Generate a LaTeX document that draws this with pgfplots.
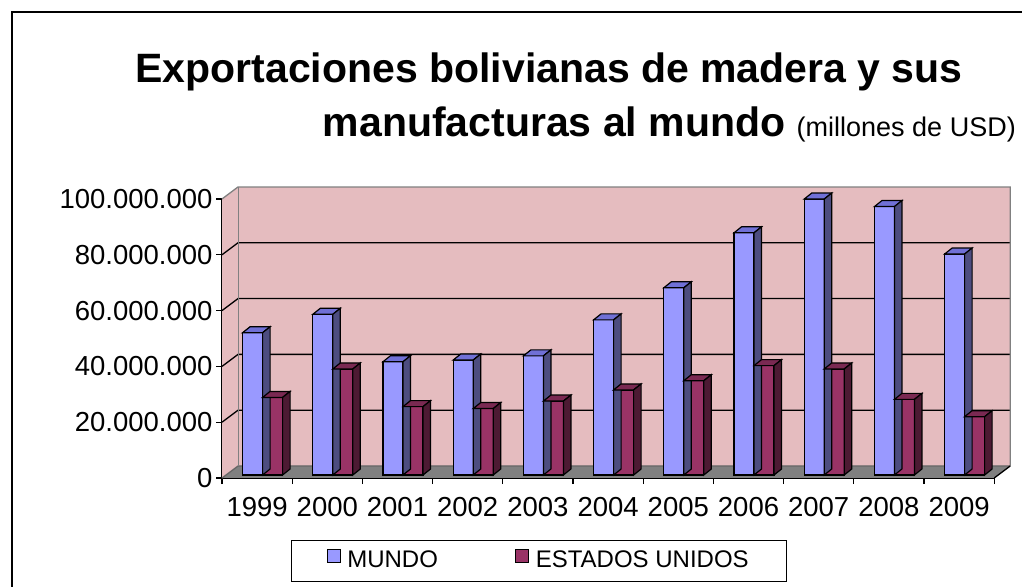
\documentclass[border=0pt]{standalone}
\usepackage{fontspec}
\setmainfont{Liberation Sans}
\usepackage{pgfplots}
\usepackage{pgfplotstable}
\pgfplotsset{compat=1.18}
\definecolor{wall}{HTML}{E5BCBF}
\definecolor{floorgray}{HTML}{808080}
\definecolor{mfront}{HTML}{9999FF}
\definecolor{mtop}{HTML}{7070D6}
\definecolor{mside}{HTML}{4D4D80}
\definecolor{efront}{HTML}{993366}
\definecolor{etop}{HTML}{7A2952}
\definecolor{eside}{HTML}{4D1A33}

\pgfplotstableread{
i mundo eeuu
0 51.0 27.8
1 57.6 38.0
2 40.6 24.5
3 41.2 23.8
4 42.7 26.5
5 55.6 30.5
6 67.1 33.8
7 86.8 39.2
8 98.9 38.0
9 96.2 27.1
10 79.2 20.9
}\datatable

% side and top faces of a 3D column; origin = data point (category centre, value)
\pgfdeclareplotmark{mundo3d}{%
  \pgfmathsetmacro\hh{\vv*2.79}%
  \pgfpathmoveto{\pgfpoint{-14.5pt}{3pt}}%
  \pgfpathlineto{\pgfpoint{5.5pt}{3pt}}%
  \pgfpathlineto{\pgfpoint{13pt}{9pt}}%
  \pgfpathlineto{\pgfpoint{-7pt}{9pt}}%
  \pgfpathclose
  \pgfsetfillcolor{mtop}%
  \pgfusepath{fill,stroke}%
  \pgfpathmoveto{\pgfpoint{5.5pt}{3pt}}%
  \pgfpathlineto{\pgfpoint{13pt}{9pt}}%
  \pgfpathlineto{\pgfpoint{13pt}{9pt-\hh pt}}%
  \pgfpathlineto{\pgfpoint{5.5pt}{3pt-\hh pt}}%
  \pgfpathclose
  \pgfsetfillcolor{mside}%
  \pgfusepath{fill,stroke}%
}
\pgfdeclareplotmark{eeuu3d}{%
  \pgfmathsetmacro\hh{\vv*2.79}%
  \pgfpathmoveto{\pgfpoint{5.5pt}{3pt}}%
  \pgfpathlineto{\pgfpoint{25.5pt}{3pt}}%
  \pgfpathlineto{\pgfpoint{33pt}{9pt}}%
  \pgfpathlineto{\pgfpoint{13pt}{9pt}}%
  \pgfpathclose
  \pgfsetfillcolor{etop}%
  \pgfusepath{fill,stroke}%
  \pgfpathmoveto{\pgfpoint{25.5pt}{3pt}}%
  \pgfpathlineto{\pgfpoint{33pt}{9pt}}%
  \pgfpathlineto{\pgfpoint{33pt}{9pt-\hh pt}}%
  \pgfpathlineto{\pgfpoint{25.5pt}{3pt-\hh pt}}%
  \pgfpathclose
  \pgfsetfillcolor{eside}%
  \pgfusepath{fill,stroke}%
}

\begin{document}
\begin{tikzpicture}
\path[use as bounding box] (0,0) rectangle (1022pt,586pt);
\draw[line width=1.8pt] (12pt,-5pt) -- (12pt,574pt) -- (1030pt,574pt);

\node[anchor=base, inner sep=0pt, font=\fontsize{41}{48}\selectfont\bfseries] at (549pt,503pt) {Exportaciones bolivianas de madera y sus};
\node[anchor=base east, inner sep=0pt] at (1016pt,449pt) {\fontsize{41}{48}\selectfont\bfseries manufacturas al mundo \fontsize{27}{32}\selectfont\mdseries(millones de USD)};

\begin{axis}[
  at={(222pt,108pt)}, anchor=south west,
  scale only axis, x=70.2pt, y=2.79pt,
  xmin=-0.5, xmax=10.5, ymin=0, ymax=100,
  clip=false,
  axis x line*=bottom, axis y line*=left,
  axis line style={line width=1.3pt, -, black},
  xtick={-0.5,0.5,...,10.5},
  x tick label as interval,
  xticklabels={1999,2000,2001,2002,2003,2004,2005,2006,2007,2008,2009},
  xticklabel style={yshift=-10pt},
  ytick={0,20,40,60,80,100},
  yticklabels={0,20.000.000,40.000.000,60.000.000,80.000.000,100.000.000},
  tick align=outside, major tick length=6pt,
  tick style={line width=1.3pt, black},
  tick label style={font=\fontsize{27.5}{31}\selectfont},
  legend style={at={(0.0894,-0.2222)}, anchor=north west, legend columns=2,
    draw=black, line width=1pt, inner xsep=35pt, inner ysep=7pt,
    font=\fontsize{24}{28}\selectfont,
    nodes={inner xsep=3pt, inner ysep=3pt, text height=17pt, text depth=4pt},
    /tikz/every odd column/.append style={column sep=4pt},
    /tikz/every even column/.append style={column sep=74pt}},
]
% walls and floor
\fill[wall] ([shift={(16pt,12pt)}]axis cs:-0.5,0) rectangle ([shift={(16pt,12pt)}]axis cs:10.5,100);
\fill[wall] (axis cs:-0.5,0) -- ([shift={(16pt,12pt)}]axis cs:-0.5,0) -- ([shift={(16pt,12pt)}]axis cs:-0.5,100) -- (axis cs:-0.5,100) -- cycle;
\fill[floorgray] (axis cs:-0.5,0) -- (axis cs:10.5,0) -- ([shift={(16pt,12pt)}]axis cs:10.5,0) -- ([shift={(16pt,12pt)}]axis cs:-0.5,0) -- cycle;
\draw[black, line width=1.3pt] (axis cs:-0.5,20) -- ([shift={(16pt,12pt)}]axis cs:-0.5,20) -- ([shift={(16pt,12pt)}]axis cs:10.5,20);
\draw[black, line width=1.3pt] (axis cs:-0.5,40) -- ([shift={(16pt,12pt)}]axis cs:-0.5,40) -- ([shift={(16pt,12pt)}]axis cs:10.5,40);
\draw[black, line width=1.3pt] (axis cs:-0.5,60) -- ([shift={(16pt,12pt)}]axis cs:-0.5,60) -- ([shift={(16pt,12pt)}]axis cs:10.5,60);
\draw[black, line width=1.3pt] (axis cs:-0.5,80) -- ([shift={(16pt,12pt)}]axis cs:-0.5,80) -- ([shift={(16pt,12pt)}]axis cs:10.5,80);
\draw[black!60, line width=1.3pt] (axis cs:-0.5,0) -- ([shift={(16pt,12pt)}]axis cs:-0.5,0) -- ([shift={(16pt,12pt)}]axis cs:10.5,0);
\draw[gray, line width=1.3pt] (axis cs:-0.5,100) -- ([shift={(16pt,12pt)}]axis cs:-0.5,100) -- ([shift={(16pt,12pt)}]axis cs:10.5,100) -- ([shift={(16pt,12pt)}]axis cs:10.5,0);
\draw[gray, line width=1pt] ([shift={(16pt,12pt)}]axis cs:-0.5,0) -- ([shift={(16pt,12pt)}]axis cs:-0.5,100);
\draw[black, line width=1.3pt] (axis cs:10.5,0) -- ([shift={(16pt,12pt)}]axis cs:10.5,0);

% MUNDO
\addplot[only marks, mark=mundo3d, mark options={draw=black, line width=1.2pt},
  visualization depends on=rawy\as\vv, forget plot] table[x=i, y=mundo] {\datatable};
\addplot[ybar, bar width=20pt, bar shift=-4.5pt, yshift=3pt, fill=mfront, draw=black, line width=1.2pt,
  legend image code/.code={\draw[fill=mfront, draw=black, line width=0.8pt] (0pt,-4pt) rectangle (13pt,9pt);}]
  table[x=i, y=mundo] {\datatable};
\addlegendentry{MUNDO}
% ESTADOS UNIDOS
\addplot[only marks, mark=eeuu3d, mark options={draw=black, line width=1.2pt},
  visualization depends on=rawy\as\vv, forget plot] table[x=i, y=eeuu] {\datatable};
\addplot[ybar, bar width=20pt, bar shift=15.5pt, yshift=3pt, fill=efront, draw=black, line width=1.2pt,
  legend image code/.code={\draw[fill=efront, draw=black, line width=0.8pt] (0pt,-4pt) rectangle (13pt,9pt);}]
  table[x=i, y=eeuu] {\datatable};
\addlegendentry{ESTADOS UNIDOS}
\end{axis}
\end{tikzpicture}
\end{document}
